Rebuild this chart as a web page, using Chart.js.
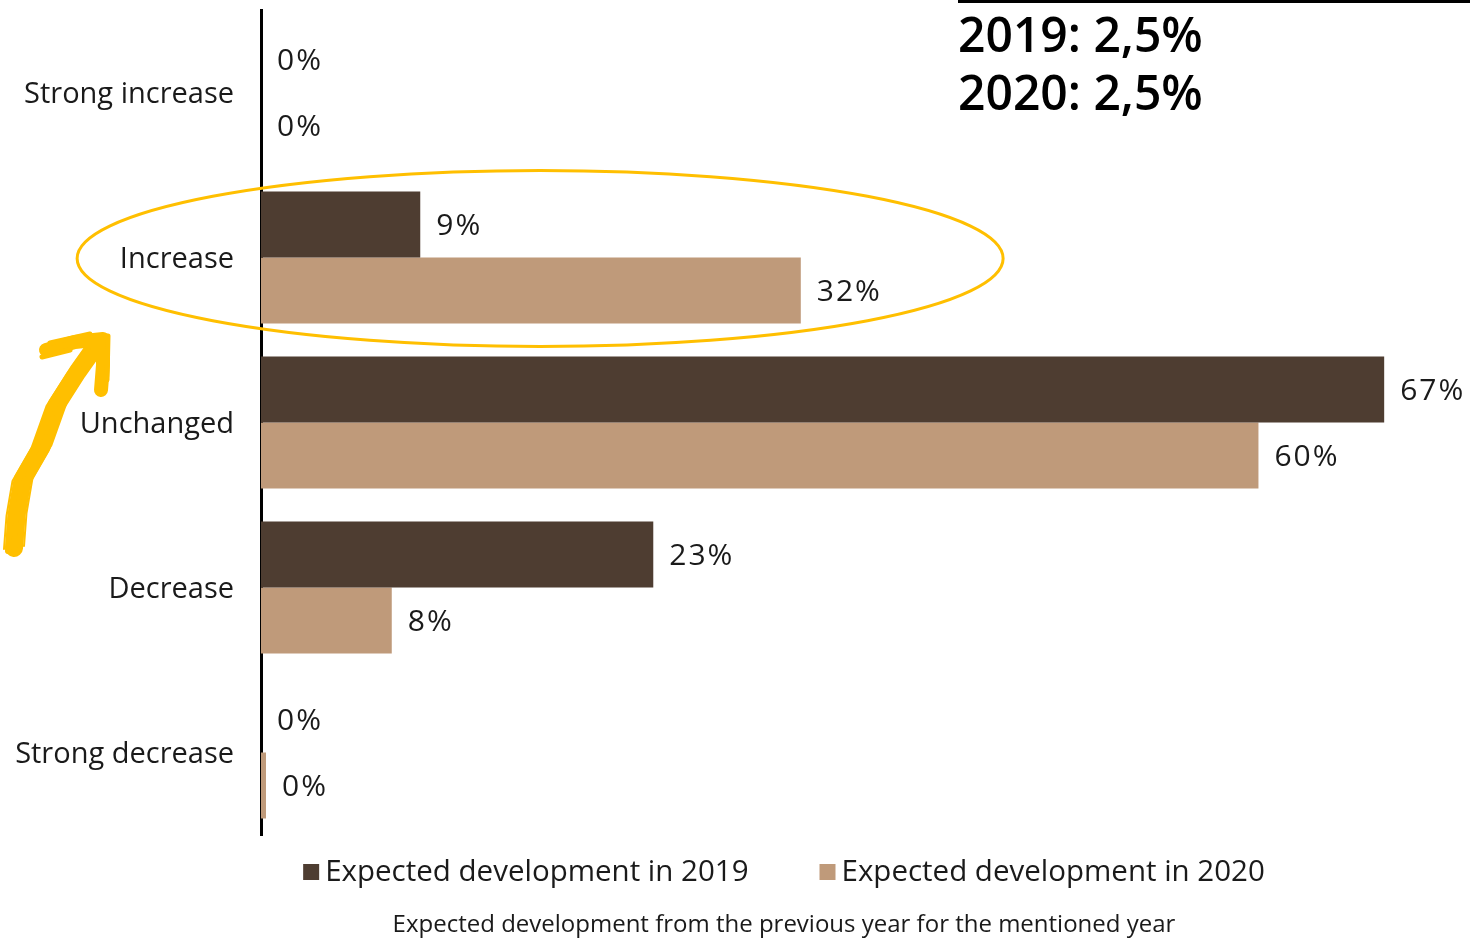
<!DOCTYPE html>
<html>
<head>
<meta charset="utf-8">
<script src="https://cdn.jsdelivr.net/npm/chart.js@4.4.1/dist/chart.umd.min.js"></script>
<style>
  html, body { margin: 0; padding: 0; background: #fff; }
</style>
</head>
<body>
<canvas id="devChart" width="1470" height="939"></canvas>
<script>
const categories = ['Strong increase', 'Increase', 'Unchanged', 'Decrease', 'Strong decrease'];
const values2019 = [0, 9.5, 67, 23.4, 0];
const values2020 = [0, 32.2, 59.5, 7.8, 0.3];
const labels2019 = ['0%', '9%', '67%', '23%', '0%'];
const labels2020 = ['0%', '32%', '60%', '8%', '0%'];
const seriesNames = ['Expected development in 2019', 'Expected development in 2020'];
const inflationNotes = ['2019: 2,5%', '2020: 2,5%'];
const caption = 'Expected development from the previous year for the mentioned year';

const FONT = '"Open Sans", "Noto Sans", sans-serif';
const YELLOW = '#FFBF00';
const TEXT = '#1a1a1a';

// value labels at the end of every bar
const barLabels = {
    id: 'barLabels',
    afterDatasetsDraw(chart) {
        const ctx = chart.ctx;
        ctx.save();
        ctx.font = '30px ' + FONT;
        ctx.letterSpacing = '2px';
        ctx.fillStyle = TEXT;
        ctx.textBaseline = 'middle';
        ctx.textAlign = 'left';
        [labels2019, labels2020].forEach((texts, i) => {
            chart.getDatasetMeta(i).data.forEach((bar, j) => {
                ctx.fillText(texts[j], bar.x + 16, bar.y + 2);
            });
        });
        ctx.restore();
    }
};

// legend + caption under the plot, centred like the original
const bottomLegend = {
    id: 'bottomLegend',
    afterDraw(chart) {
        const ctx = chart.ctx;
        const centre = 784;
        ctx.save();
        ctx.font = '29.5px ' + FONT;
        ctx.textBaseline = 'middle';
        ctx.textAlign = 'left';
        const items = chart.data.datasets.map(ds => ({
            text: ds.label,
            color: ds.backgroundColor,
            w: ctx.measureText(ds.label).width
        }));
        const box = 16, gap = 6, spacing = 71;
        const total = items.reduce((s, it) => s + box + gap + it.w, 0) + spacing * (items.length - 1);
        let x = centre - total / 2;
        const y = 872;
        items.forEach(it => {
            ctx.fillStyle = it.color;
            ctx.fillRect(x, y - 8, box, box);
            ctx.fillStyle = TEXT;
            ctx.fillText(it.text, x + box + gap, y + 1);
            x += box + gap + it.w + spacing;
        });
        ctx.font = '24px ' + FONT;
        ctx.textAlign = 'center';
        ctx.fillText(caption, centre, 925);
        ctx.restore();
    }
};

// ellipse, brush arrow and the inflation note
const annotations = {
    id: 'annotations',
    afterDraw(chart) {
        const ctx = chart.ctx;
        const x = chart.scales.x, y = chart.scales.y;
        ctx.save();

        // ellipse around "Increase"
        ctx.strokeStyle = YELLOW;
        ctx.lineWidth = 3;
        ctx.beginPath();
        ctx.ellipse(x.getPixelForValue(16.65), y.getPixelForValue(1) + 1, 463, 88, 0, 0, Math.PI * 2);
        ctx.stroke();

        // hand drawn arrow
        ctx.lineCap = 'round';
        ctx.lineJoin = 'round';
        const shaft = [[14, 548], [15, 515], [24, 480], [40, 447], [58, 405], [76, 372], [96, 348]];
        const strokes = [
            {w: 18, dx: 0, dy: 0},
            {w: 6, dx: 6, dy: -3},
            {w: 6, dx: -6, dy: 3},
            {w: 2, dx: 10, dy: -2},
            {w: 2, dx: -10, dy: 1}
        ];
        strokes.forEach(s => {
            ctx.lineWidth = s.w;
            ctx.beginPath();
            shaft.forEach((p, i) => {
                const wob = (i % 2 ? 1.5 : -1.5);
                if (i === 0) ctx.moveTo(p[0] + s.dx, p[1] + s.dy);
                else ctx.lineTo(p[0] + s.dx + wob, p[1] + s.dy);
            });
            ctx.stroke();
        });
        ctx.lineWidth = 14;
        ctx.beginPath();
        ctx.moveTo(46, 350);
        ctx.lineTo(75, 342);
        ctx.lineTo(103, 339);
        ctx.lineTo(103, 365);
        ctx.lineTo(101, 390);
        ctx.stroke();
        ctx.lineWidth = 5;
        ctx.beginPath();
        ctx.moveTo(42, 357);
        ctx.lineTo(70, 350);
        ctx.moveTo(50, 343);
        ctx.lineTo(90, 334);
        ctx.moveTo(108, 336);
        ctx.lineTo(107, 380);
        ctx.stroke();

        // inflation note, top right
        ctx.fillStyle = '#000';
        ctx.fillRect(958, 0, 512, 3);
        ctx.font = '600 48px ' + FONT;
        ctx.textAlign = 'left';
        ctx.textBaseline = 'alphabetic';
        ctx.fillText(inflationNotes[0], 958, 52);
        ctx.fillText(inflationNotes[1], 958, 110);
        ctx.restore();
    }
};

const ctx = document.getElementById('devChart').getContext('2d');
new Chart(ctx, {
    type: 'bar',
    data: {
        labels: categories,
        datasets: [{
            label: seriesNames[0],
            data: values2019,
            backgroundColor: '#4E3D31'
        }, {
            label: seriesNames[1],
            data: values2020,
            backgroundColor: '#BF9A7A'
        }]
    },
    options: {
        indexAxis: 'y',
        responsive: false,
        animation: false,
        layout: {
            padding: {left: 0, right: 2, top: 10, bottom: 104}
        },
        datasets: {
            bar: {categoryPercentage: 0.8, barPercentage: 1}
        },
        scales: {
            x: {display: false, min: 0, max: 72},
            y: {
                z: 1,
                grid: {display: false, drawTicks: false},
                border: {display: true, color: '#000', width: 3},
                ticks: {
                    color: TEXT,
                    padding: 27,
                    labelOffset: 2,
                    font: {family: FONT, size: 29}
                },
                afterFit(scale) {
                    scale.width = 261;
                    scale.paddingTop = 0;
                    scale.paddingBottom = 0;
                }
            }
        },
        plugins: {
            legend: {display: false},
            title: {display: false},
            tooltip: {enabled: false}
        }
    },
    plugins: [barLabels, bottomLegend, annotations]
});
</script>
</body>
</html>
